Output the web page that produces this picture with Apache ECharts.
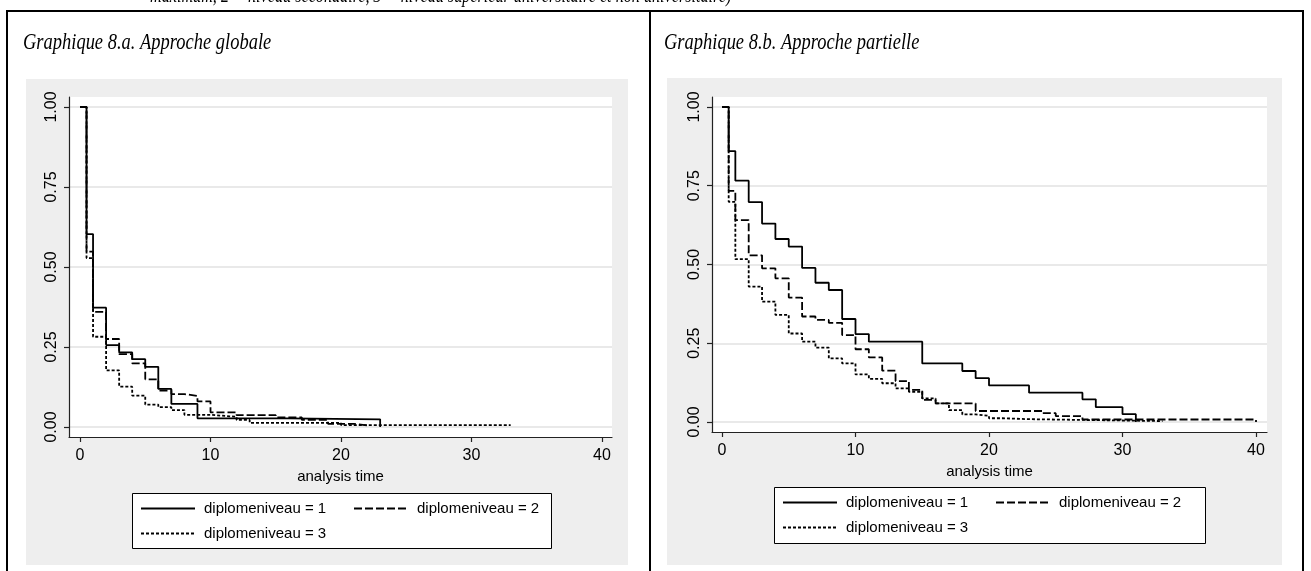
<!DOCTYPE html>
<html>
<head>
<meta charset="utf-8">
<script src="https://cdn.jsdelivr.net/npm/echarts@6/dist/echarts.min.js"></script>
<style>
html, body { margin: 0; padding: 0; background: #fff; }
#main { width: 1311px; height: 571px; }
</style>
</head>
<body>
<div id="main"></div>
<script>
// noms des groupes et graduations
var groupNames = [ 'diplomeniveau = 1', 'diplomeniveau = 2', 'diplomeniveau = 3' ];
var xTicks = [ 0, 10, 20, 30, 40 ];
var yTicks = [ 0, 0.25, 0.5, 0.75, 1 ];

// 8.a approche globale (temps, survie)
var gTime1 = [ 0, 0.5, 1, 2, 3, 4, 5, 6, 7, 9, 16, 23, 23 ];
var gSurv1 = [ 1, 0.603, 0.373, 0.256, 0.233, 0.212, 0.188, 0.119, 0.072, 0.027, 0.024, 0.024, 0 ];
var gTime2 = [ 0, 0.5, 1, 2, 3, 4, 5, 6, 7, 8, 9, 10, 12, 15, 17, 19, 21, 22, 22 ];
var gSurv2 = [ 1, 0.548, 0.360, 0.275, 0.228, 0.199, 0.149, 0.114, 0.103, 0.097, 0.080, 0.046, 0.037, 0.030, 0.022, 0.010, 0.005, 0.005, 0 ];
var gTime3 = [ 0, 0.5, 1, 2, 3, 4, 5, 6, 7, 8, 10, 12, 13, 20, 33 ];
var gSurv3 = [ 1, 0.528, 0.282, 0.177, 0.126, 0.098, 0.070, 0.062, 0.053, 0.038, 0.032, 0.022, 0.013, 0.006, 0.006 ];

// 8.b approche partielle (temps, survie)
var pTime1 = [ 0, 0.5, 1, 2, 3, 4, 5, 6, 7, 8, 9, 10, 11, 15, 18, 19, 20, 23, 27, 28, 30, 31, 31 ];
var pSurv1 = [ 1, 0.860, 0.766, 0.698, 0.630, 0.581, 0.557, 0.489, 0.442, 0.419, 0.327, 0.279, 0.255, 0.186, 0.162, 0.139, 0.116, 0.093, 0.072, 0.047, 0.025, 0.025, 0 ];
var pTime2 = [ 0, 0.5, 1, 2, 3, 4, 5, 6, 7, 8, 9, 10, 11, 12, 13, 14, 15, 16, 19, 24, 25, 27, 40, 40 ];
var pSurv2 = [ 1, 0.734, 0.641, 0.529, 0.488, 0.456, 0.395, 0.335, 0.324, 0.315, 0.276, 0.231, 0.205, 0.163, 0.130, 0.102, 0.070, 0.059, 0.035, 0.028, 0.019, 0.008, 0.008, 0 ];
var pTime3 = [ 0, 0.5, 1, 2, 3, 4, 5, 6, 7, 8, 9, 10, 11, 12, 13, 14, 15, 16, 17, 18, 19, 20, 21, 23, 33 ];
var pSurv3 = [ 1, 0.699, 0.517, 0.430, 0.382, 0.340, 0.281, 0.255, 0.236, 0.202, 0.186, 0.151, 0.137, 0.123, 0.107, 0.096, 0.075, 0.059, 0.038, 0.024, 0.020, 0.012, 0.009, 0.003, 0.003 ];

var topText = 'maximum, 2 = niveau secondaire, 3 = niveau supérieur universitaire et non universitaire)';

function zip(t, s) {
	return t.map(function(v, i) {
		return [ v, s[i] ];
	});
}

var sansFont = '"Liberation Sans", Arial, sans-serif';
var serifFont = '"Liberation Serif", "Times New Roman", serif';
var lineTypes = [ 'solid', [ 8, 3 ], [ 3, 2 ] ];

function kmSeries(name, idx, data, type) {
	return {
		name : name,
		type : 'line',
		step : 'end',
		xAxisIndex : idx,
		yAxisIndex : idx,
		symbol : 'none',
		silent : true,
		data : data,
		lineStyle : {
			color : '#000',
			width : 1.8,
			type : type
		}
	};
}

function xAxisOpt(idx, min, max) {
	return {
		gridIndex : idx,
		type : 'value',
		min : min,
		max : max,
		name : 'analysis time',
		nameLocation : 'middle',
		nameGap : 29,
		nameTextStyle : { fontFamily : sansFont, fontSize : 15, color : '#000' },
		axisLine : { onZero : false, lineStyle : { color : '#222', width : 1.2 } },
		axisTick : { customValues : xTicks, length : 5, lineStyle : { color : '#222', width : 1.2 } },
		axisLabel : { customValues : xTicks, margin : 11, fontFamily : sansFont, fontSize : 16, color : '#000' },
		splitLine : { show : false }
	};
}

function yAxisOpt(idx, min, max) {
	return {
		gridIndex : idx,
		type : 'value',
		min : min,
		max : max,
		axisLine : { show : true, onZero : false, lineStyle : { color : '#222', width : 1.2 } },
		axisTick : { show : true, customValues : yTicks, length : 5, lineStyle : { color : '#222', width : 1.2 } },
		axisLabel : {
			customValues : yTicks,
			rotate : 90,
			margin : 9,
			fontFamily : sansFont,
			fontSize : 16,
			color : '#000',
			formatter : function(v) { return v.toFixed(2); }
		},
		splitLine : { show : true, lineStyle : { color : '#e2e2e2', width : 1.5 } }
	};
}

function legendOpt(left, top) {
	return {
		left : left,
		top : top,
		orient : 'horizontal',
		width : 420,
		padding : 0,
		itemWidth : 54,
		itemHeight : 14,
		itemGap : 8,
		selectedMode : false,
		itemStyle : { opacity : 0 },
		textStyle : { fontFamily : sansFont, fontSize : 15, color : '#000', width : 141, lineHeight : 17, padding : [ 0, 0, 0, 4 ] },
		data : groupNames
	};
}

function docText(x, y, size, text) {
	return {
		type : 'text',
		x : x,
		y : y,
		scaleX : 0.77,
		style : { x : 0, y : 0, text : text, font : 'italic ' + size + 'px ' + serifFont, fill : '#000', verticalAlign : 'middle' }
	};
}

var chart = echarts.init(document.getElementById('main'));
chart.setOption({
	animation : false,
	backgroundColor : '#fff',
	grid : [ {
		left : 69, top : 97, width : 543, height : 340,
		show : true, backgroundColor : '#fff', borderWidth : 0, outerBoundsMode : 'none'
	}, {
		left : 712, top : 97, width : 555, height : 335,
		show : true, backgroundColor : '#fff', borderWidth : 0, outerBoundsMode : 'none'
	} ],
	xAxis : [ xAxisOpt(0, -0.843, 40.766), xAxisOpt(1, -0.749, 40.824) ],
	yAxis : [ yAxisOpt(0, -0.03125, 1.03125), yAxisOpt(1, -0.0317, 1.0317) ],
	legend : [ legendOpt(140, 500), legendOpt(782, 494) ],
	graphic : [
		// fonds gris des graphiques
		{ type : 'rect', z : -1, shape : { x : 26, y : 79, width : 602, height : 486 }, style : { fill : '#eeeeee' } },
		{ type : 'rect', z : -1, shape : { x : 667, y : 78, width : 615, height : 487 }, style : { fill : '#eeeeee' } },
		// cadres des légendes
		{ type : 'rect', z : 1, shape : { x : 132.5, y : 493.5, width : 419, height : 55 }, style : { fill : '#fff', stroke : '#000', lineWidth : 1 } },
		{ type : 'rect', z : 1, shape : { x : 774.5, y : 487.5, width : 431, height : 56 }, style : { fill : '#fff', stroke : '#000', lineWidth : 1 } },
		// tableau
		{ type : 'line', shape : { x1 : 6, y1 : 11, x2 : 1304, y2 : 11 }, style : { stroke : '#000', lineWidth : 2 } },
		{ type : 'line', shape : { x1 : 7, y1 : 10, x2 : 7, y2 : 571 }, style : { stroke : '#000', lineWidth : 2 } },
		{ type : 'line', shape : { x1 : 650, y1 : 10, x2 : 650, y2 : 571 }, style : { stroke : '#000', lineWidth : 2 } },
		{ type : 'line', shape : { x1 : 1303, y1 : 10, x2 : 1303, y2 : 571 }, style : { stroke : '#000', lineWidth : 2 } },
		// textes
		docText(150, -4, 21, topText),
		docText(23, 43, 24, 'Graphique 8.a. Approche globale'),
		docText(664, 43, 24, 'Graphique 8.b. Approche partielle')
	],
	series : [
		kmSeries(groupNames[0], 0, zip(gTime1, gSurv1), lineTypes[0]),
		kmSeries(groupNames[1], 0, zip(gTime2, gSurv2), lineTypes[1]),
		kmSeries(groupNames[2], 0, zip(gTime3, gSurv3), lineTypes[2]),
		kmSeries(groupNames[0], 1, zip(pTime1, pSurv1), lineTypes[0]),
		kmSeries(groupNames[1], 1, zip(pTime2, pSurv2), lineTypes[1]),
		kmSeries(groupNames[2], 1, zip(pTime3, pSurv3), lineTypes[2])
	]
});
</script>
</body>
</html>
